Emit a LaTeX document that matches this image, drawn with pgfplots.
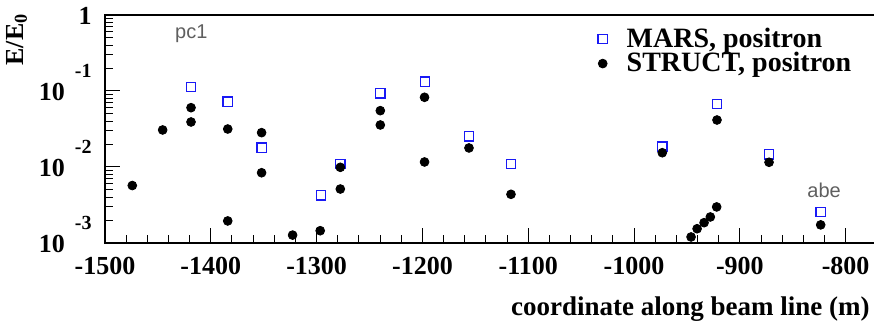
\documentclass[border=0pt]{standalone}
\usepackage{fontspec}
\setmainfont{Liberation Serif}
\newfontfamily\sansf{Liberation Sans}
\usepackage{pgfplots}
\pgfplotsset{compat=1.18}
\definecolor{marsblue}{RGB}{25,25,245}
\definecolor{notegray}{RGB}{95,95,95}
\newcommand{\tl}{\bfseries\fontsize{13}{13}\selectfont}
\newcommand{\ex}[1]{\raisebox{11.5pt}{\fontsize{10}{10}\selectfont\bfseries #1}}

\pgfplotstableread{
x y
-1418.7 0.112
-1384.0 0.0724
-1352.0 0.0180
-1295.8 0.00424
-1277.6 0.01094
-1239.8 0.0932
-1197.5 0.1327
-1156.0 0.0253
-1116.3 0.01094
-973.3 0.0185
-921.6 0.0675
-872.4 0.0147
-823.6 0.00254
}\mars

\pgfplotstableread{
x y
-1474.2 0.0057
-1445.5 0.0307
-1418.7 0.0603
-1418.7 0.0391
-1384.0 0.0316
-1384.0 0.00195
-1352.0 0.0283
-1352.0 0.0084
-1322.7 0.00127
-1296.6 0.00145
-1277.6 0.0099
-1277.6 0.00513
-1239.8 0.0551
-1239.8 0.0357
-1198.0 0.0826
-1198.0 0.01164
-1156.0 0.0178
-1116.3 0.00437
-973.3 0.0154
-946.1 0.0012
-940.4 0.00154
-933.8 0.00185
-927.9 0.0022
-921.9 0.00298
-921.6 0.0415
-872.4 0.01153
-823.6 0.00173
}\struct

\begin{document}
\begin{tikzpicture}
\begin{axis}[name=a,
  scale only axis, width=384.5pt, height=114pt,
  xmin=-1500, xmax=-773.2,
  ymode=log, ymin=1e-3, ymax=1,
  clip=false,
  axis line style={draw=none},
  tick align=inside, xtick pos=bottom, ytick pos=left,
  major tick length=7.5pt, minor tick length=4pt,
  tick style={black, line width=0.5pt},
  xtick={-1500,-1400,-1300,-1200,-1100,-1000,-900,-800},
  xticklabels={-1500,-1400,-1300,-1200,-1100,-1000,-900,-800},
  minor x tick num=4,
  xticklabel style={font=\tl, inner sep=0pt, anchor=north, yshift=-7pt},
  ytick={1e-3,1e-2,1e-1,1},
  minor ytick={2e-3,3e-3,4e-3,5e-3,6e-3,7e-3,8e-3,9e-3,2e-2,3e-2,4e-2,5e-2,6e-2,7e-2,8e-2,9e-2,0.2,0.3,0.4,0.5,0.6,0.7,0.8,0.9},
  yticklabels={{10\hspace{5pt}\ex{-3}},{10\hspace{5pt}\ex{-2}},{10\hspace{5pt}\ex{-1}},{1\hspace{10pt}}},
  yticklabel style={font=\tl, inner sep=0pt, anchor=base east, xshift=-6.5pt, yshift=-4.75pt},
  xlabel={coordinate along beam line (m)},
  xlabel style={at={(axis description cs:0.9948,-0.320)}, anchor=base east, inner sep=0pt, font=\bfseries\fontsize{13.5}{13.5}\selectfont},
  ylabel={E/E\textsubscript{0}},
  ylabel style={at={(axis description cs:-0.1151,1.009)}, anchor=east, inner sep=0pt, font=\bfseries\fontsize{13}{13}\selectfont},
  legend style={draw=none, fill=none, inner sep=0pt, font=\bfseries\fontsize{14}{14}\selectfont,
    at={(axis description cs:0.6155,0.945)}, anchor=north west, row sep=1pt, nodes={inner sep=0pt}},
  legend cell align=left,
  legend image code/.code={\path[draw=none, fill=none] (0pt,0pt) -- (24pt,0pt); \draw[#1, only marks, mark repeat=2, mark phase=2] plot coordinates {(0pt,0pt) (12pt,0pt) (24pt,0pt)};},
]
\addplot[only marks, mark=square, mark size=2.3pt, draw=marsblue, mark options={line width=0.65pt}] table[x=x,y=y] {\mars};
\addlegendentry{MARS, positron}
\addplot[only marks, mark=*, mark size=2.2pt, black] table[x=x,y=y] {\struct};
\addlegendentry{STRUCT, positron}
\draw[line width=1pt] (rel axis cs:1,1) -- (rel axis cs:0,1) -- (rel axis cs:0,0) -- (rel axis cs:1,0);
\node[anchor=base west, inner sep=0pt, font=\sansf\fontsize{10}{10}\selectfont, text=notegray] at (axis cs:-1434,0.498) {pc1};
\node[anchor=base west, inner sep=0pt, font=\sansf\fontsize{10}{10}\selectfont, text=notegray] at (axis cs:-836.5,0.00391) {abe};
\end{axis}
\pgfresetboundingbox
\path[use as bounding box] ([xshift=-52.5pt,yshift=-41pt]a.south west) rectangle ([yshift=7.5pt]a.north east);
\end{tikzpicture}
\end{document}
